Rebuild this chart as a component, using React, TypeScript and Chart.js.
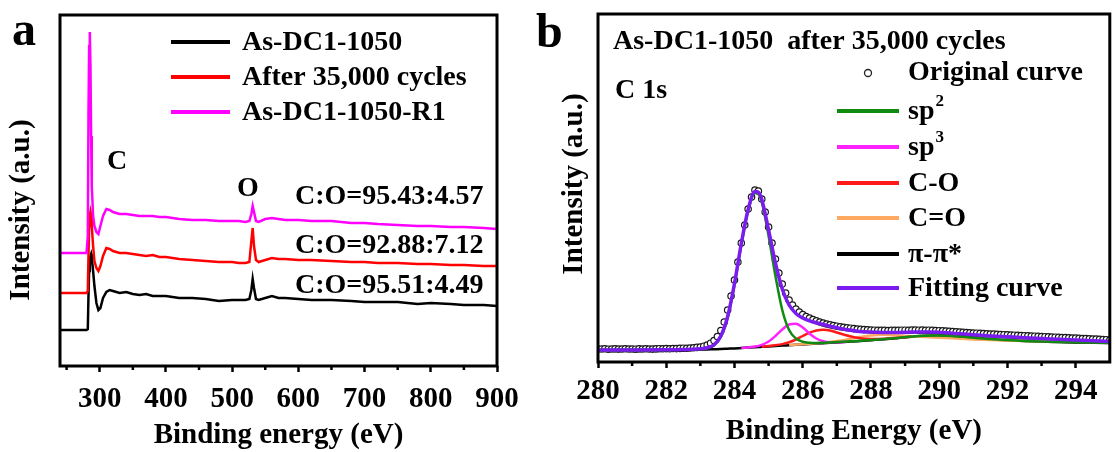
import React, { useEffect, useRef } from "react";
import { Chart, registerables } from "chart.js";

Chart.register(...registerables);

const FONT = '"Liberation Serif", "Times New Roman", "DejaVu Serif", serif';

// ---------- Panel a: XPS survey ----------
const surveyEnergy = [
  240, 260, 280, 282, 283, 284, 285, 286, 287, 288,
  290, 292, 295, 298, 301, 305, 310, 315, 320, 330,
  340, 350, 360, 370, 380, 390, 400, 410, 420, 440,
  460, 480, 500, 510, 520, 526, 529, 531, 533, 536,
  540, 550, 560, 570, 580, 600, 620, 650, 680, 700,
  720, 750, 780, 800, 830, 850, 880, 900,
];
const asDC1050 = [
  36, 36, 36, 37, 70, 95, 105, 110, 112, 108,
  95, 80, 63, 56, 58, 68, 74, 76, 75, 73,
  74, 72, 71, 72, 70, 70, 70, 69, 68, 68,
  67, 65, 66, 66, 66, 67, 76, 87, 78, 67,
  66, 68, 70, 68, 68, 67, 66, 66, 65, 64,
  64, 64, 62, 63, 62, 61, 61, 60,
];
const after35000 = [
  73, 73, 73, 75, 110, 140, 150, 154, 150, 140,
  120, 105, 98, 95, 100, 110, 118, 117, 115, 113,
  113, 112, 111, 110, 111, 109, 109, 108, 107, 106,
  105, 104, 104, 103, 103, 104, 125, 138, 120, 106,
  104, 106, 108, 107, 107, 106, 106, 105, 104, 104,
  103, 103, 102, 102, 101, 101, 100, 100,
];
const asDC1050R1 = [
  113, 113, 113, 130, 250, 320, 334, 300, 230, 180,
  150, 140, 134, 132, 140, 150, 157, 156, 154, 152,
  152, 151, 150, 150, 150, 149, 149, 148, 147, 146,
  146, 145, 145, 145, 144, 145, 152, 160, 154, 145,
  144, 147, 148, 147, 146, 146, 145, 145, 143, 143,
  142, 141, 140, 140, 139, 139, 138, 137,
];
const surveyTicks = [300, 400, 500, 600, 700, 800, 900];
const surveyMinorTicks = [250, 350, 450, 550, 650, 750, 850];
const surveyLegend = ["As-DC1-1050", "After 35,000 cycles", "As-DC1-1050-R1"];
const surveyColors = ["#000000", "#ff0000", "#ff00ff"];
const ratioLabels = ["C:O=95.43:4.57", "C:O=92.88:7.12", "C:O=95.51:4.49"];

// ---------- Panel b: C 1s ----------
const originalEnergy = [
  280.0, 280.1, 280.2, 280.3, 280.4, 280.5, 280.6, 280.7, 280.8, 280.9,
  281.0, 281.1, 281.2, 281.3, 281.4, 281.5, 281.6, 281.7, 281.8, 281.9,
  282.0, 282.1, 282.2, 282.3, 282.4, 282.5, 282.6, 282.7, 282.8, 282.9,
  283.0, 283.1, 283.2, 283.3, 283.4, 283.5, 283.6, 283.7, 283.8, 283.9,
  284.0, 284.1, 284.2, 284.3, 284.4, 284.5, 284.6, 284.7, 284.8, 284.9,
  285.0, 285.1, 285.2, 285.3, 285.4, 285.5, 285.6, 285.7, 285.8, 285.9,
  286.0, 286.1, 286.2, 286.3, 286.4, 286.5, 286.6, 286.7, 286.8, 286.9,
  287.0, 287.1, 287.2, 287.3, 287.4, 287.5, 287.6, 287.7, 287.8, 287.9,
  288.0, 288.1, 288.2, 288.3, 288.4, 288.5, 288.6, 288.7, 288.8, 288.9,
  289.0, 289.1, 289.2, 289.3, 289.4, 289.5, 289.6, 289.7, 289.8, 289.9,
  290.0, 290.1, 290.2, 290.3, 290.4, 290.5, 290.6, 290.7, 290.8, 290.9,
  291.0, 291.1, 291.2, 291.3, 291.4, 291.5, 291.6, 291.7, 291.8, 291.9,
  292.0, 292.1, 292.2, 292.3, 292.4, 292.5, 292.6, 292.7, 292.8, 292.9,
  293.0, 293.1, 293.2, 293.3, 293.4, 293.5, 293.6, 293.7, 293.8, 293.9,
  294.0, 294.1, 294.2, 294.3, 294.4, 294.5, 294.6, 294.7, 294.8, 294.9,
  295.0,
];
const originalCurve = [
  13, 13, 13.2, 12.8, 13, 13.1, 12.9, 13, 13.2, 13,
  13, 12.8, 13.1, 13, 13.2, 13, 12.9, 13.1, 13.3, 13.2,
  13.4, 13.2, 13.5, 13.4, 13.6, 13.8, 13.7, 14, 14.2, 14.6,
  15, 15.8, 17, 18.8, 21.5, 25.5, 31.5, 40, 52, 66,
  82, 100, 119, 137, 153, 165, 172, 171, 163, 150,
  135, 119, 103, 89, 78, 69, 62, 57, 53, 50,
  47.5, 45.5, 44, 42.5, 41.2, 40, 39, 38, 37.2, 36.5,
  35.8, 35.2, 34.7, 34.2, 33.8, 33.4, 33, 32.7, 32.4, 32.2,
  32, 31.8, 31.7, 31.6, 31.6, 31.5, 31.6, 31.7, 31.6, 31.8,
  31.8, 31.7, 31.9, 32, 31.8, 31.9, 31.7, 31.8, 31.6, 31.5,
  31.3, 31.1, 31, 30.7, 30.5, 30.2, 30, 29.7, 29.5, 29.2,
  29, 28.8, 28.7, 28.4, 28.2, 28, 27.9, 27.6, 27.5, 27.3,
  27.1, 27, 26.8, 26.6, 26.5, 26.3, 26.1, 26, 25.8, 25.7,
  25.5, 25.3, 25.2, 25, 24.8, 24.7, 24.5, 24.4, 24.2, 24,
  23.9, 23.7, 23.5, 23.4, 23.2, 23, 22.9, 22.7, 22.5, 22.3,
  22,
];
const fitEnergy = [
  280, 281, 282, 282.5, 283, 283.2, 283.4, 283.6, 283.8, 284.0,
  284.2, 284.4, 284.6, 284.7, 284.8, 285.0, 285.2, 285.4, 285.6, 285.8,
  286.0, 286.2, 286.4, 286.6, 286.8, 287.0, 287.3, 287.6, 288.0, 288.4,
  288.8, 289.2, 289.6, 290.0, 290.5, 291, 291.5, 292, 292.5, 293,
  293.5, 294, 294.5, 295,
];
const fittingCurve = [
  12, 12, 12.2, 12.5, 13.2, 14.2, 17.2, 26, 45.5, 78.5,
  118.5, 152.5, 170.5, 169.8, 162.5, 132, 99, 73, 57, 48.5,
  44, 41.2, 39.3, 37.5, 35.8, 34.2, 32.3, 30.8, 30, 29.6,
  29.6, 29.9, 30.1, 29.7, 28.5, 27.2, 26.1, 25.2, 24.3, 23.5,
  22.7, 21.9, 21.2, 20.5,
];
const sp2Curve = [
  12, 12, 12.1, 12.3, 12.9, 13.8, 16.5, 25, 44, 77,
  117, 151, 169, 168, 160, 126, 86, 52, 32, 23.5,
  20.2, 19.2, 19.0, 19.2, 19.5, 19.9, 20.4, 21, 22, 23,
  24.1, 25.4, 26.3, 26.6, 25.7, 24.3, 22.9, 21.9, 21.1, 20.5,
  20.1, 19.7, 19.4, 19.1,
];
const piCurve = [
  12, 12, 12, 12.1, 12.4, 12.6, 12.8, 13, 13.3, 13.6,
  14, 14.4, 14.8, 15, 15.2, 15.6, 16, 16.4, 16.8, 17.2,
  17.6, 18, 18.4, 18.8, 19.2, 19.6, 20.2, 20.8, 21.8, 22.8,
  24, 25.3, 26.2, 26.5, 25.6, 24.2, 22.8, 21.8, 21, 20.4,
  20, 19.6, 19.3, 19,
];
const sp3Energy = [284.2, 284.4, 284.6, 284.8, 285.0, 285.2, 285.4, 285.6, 285.8, 286.0, 286.2, 286.4, 286.6, 286.8, 287.0, 287.3];
const sp3Curve = [14.1, 14.6, 15.4, 17.2, 20.5, 26, 32.5, 37.5, 38.2, 34.5, 28.5, 23.5, 20.8, 19.8, 19.8, 20.2];
const coEnergy = [284.8, 285.0, 285.2, 285.4, 285.6, 285.8, 286.0, 286.2, 286.4, 286.6, 286.8, 287.0, 287.3, 287.6, 288.0, 288.4, 288.8, 289.2];
const coCurve = [15.3, 15.9, 16.7, 17.9, 19.8, 22.5, 26, 29.3, 31.5, 32.2, 31.5, 29.5, 26.5, 24.2, 23, 23.3, 24.2, 25.4];
const c2oEnergy = [285.6, 286.0, 286.4, 286.8, 287.0, 287.3, 287.6, 288.0, 288.4, 288.8, 289.2, 289.6, 290.0, 290.5, 291, 291.5, 292, 292.5, 293, 293.5, 294, 294.5, 295];
const c2oCurve = [16.9, 17.8, 18.8, 20, 20.9, 22.6, 24.6, 26.6, 27.2, 26.6, 25.8, 25, 24.3, 23.4, 22.6, 22, 21.5, 21.1, 20.8, 20.5, 20.3, 20.1, 19.9];
const c1sTicks = [280, 282, 284, 286, 288, 290, 292, 294];
const c1sMinorTicks = [281, 283, 285, 287, 289, 291, 293];
const c1sColors = {
  fit: "#7a1cf0",
  sp2: "#118a11",
  sp3: "#ff22ff",
  co: "#ff1a1a",
  c2o: "#ffa860",
  pi: "#000000",
};

const pts = (xs: number[], ys: number[]) => xs.map((x, i) => ({ x, y: ys[i] }));

function setFont(ctx: CanvasRenderingContext2D, size: number) {
  ctx.font = `bold ${size}px ${FONT}`;
}

function drawFrameAndMinor(chart: any, minor: number[]) {
  const { ctx, chartArea: ca, scales } = chart;
  ctx.save();
  ctx.strokeStyle = "#000";
  ctx.lineWidth = 2.5;
  for (const v of minor) {
    const px = scales.x.getPixelForValue(v);
    ctx.beginPath();
    ctx.moveTo(px, ca.bottom);
    ctx.lineTo(px, ca.bottom + 4);
    ctx.stroke();
  }
  ctx.lineWidth = 3;
  ctx.strokeRect(ca.left, ca.top, ca.right - ca.left, ca.bottom - ca.top);
  ctx.restore();
}

function drawYTitle(ctx: CanvasRenderingContext2D, text: string, x: number, y: number) {
  ctx.save();
  ctx.translate(x, y);
  ctx.rotate(-Math.PI / 2);
  setFont(ctx, 29);
  ctx.fillStyle = "#000";
  ctx.textAlign = "center";
  ctx.textBaseline = "middle";
  ctx.fillText(text, 0, 0);
  ctx.restore();
}

const surveyPlugin = {
  id: "surveyDecor",
  afterDraw(chart: any) {
    const ctx: CanvasRenderingContext2D = chart.ctx;
    drawFrameAndMinor(chart, surveyMinorTicks);
    ctx.save();
    ctx.fillStyle = "#000";
    const rows = [42, 77, 112];
    surveyLegend.forEach((label, i) => {
      ctx.strokeStyle = surveyColors[i];
      ctx.lineWidth = 4;
      ctx.beginPath();
      ctx.moveTo(171, rows[i]);
      ctx.lineTo(230, rows[i]);
      ctx.stroke();
      setFont(ctx, 28);
      ctx.textAlign = "left";
      ctx.textBaseline = "middle";
      ctx.fillText(label, 242, rows[i] + 1);
    });
    setFont(ctx, 28);
    ctx.textBaseline = "middle";
    ctx.textAlign = "left";
    ctx.fillText("C", 107, 162);
    ctx.fillText("O", 237, 189);
    const ry = [197, 246, 286];
    ratioLabels.forEach((t, i) => ctx.fillText(t, 295, ry[i]));
    setFont(ctx, 48);
    ctx.textBaseline = "alphabetic";
    ctx.fillText("a", 12, 45);
    ctx.restore();
    drawYTitle(ctx, "Intensity (a.u.)", 22, 210);
  },
};

const c1sPlugin = {
  id: "c1sDecor",
  afterDraw(chart: any) {
    const ctx: CanvasRenderingContext2D = chart.ctx;
    drawFrameAndMinor(chart, c1sMinorTicks);
    ctx.save();
    ctx.fillStyle = "#000";
    setFont(ctx, 28);
    ctx.textAlign = "left";
    ctx.textBaseline = "middle";
    ctx.fillText("As-DC1-1050  after 35,000 cycles", 83, 42);
    ctx.fillText("C 1s", 85, 91);
    ctx.beginPath();
    ctx.arc(338, 73, 3.5, 0, Math.PI * 2);
    ctx.fillStyle = "#fff";
    ctx.fill();
    ctx.strokeStyle = "#222";
    ctx.lineWidth = 1.3;
    ctx.stroke();
    ctx.fillStyle = "#000";
    ctx.fillText("Original curve", 378, 73);
    const items: { color: string; main: string; sup?: string }[] = [
      { color: c1sColors.sp2, main: "sp", sup: "2" },
      { color: c1sColors.sp3, main: "sp", sup: "3" },
      { color: c1sColors.co, main: "C-O" },
      { color: c1sColors.c2o, main: "C=O" },
      { color: c1sColors.pi, main: "π-π*" },
      { color: c1sColors.fit, main: "Fitting curve" },
    ];
    const rows = [111, 147, 183, 218, 254, 288];
    items.forEach((it, i) => {
      ctx.strokeStyle = it.color;
      ctx.lineWidth = 4;
      ctx.beginPath();
      ctx.moveTo(307, rows[i]);
      ctx.lineTo(369, rows[i]);
      ctx.stroke();
      setFont(ctx, 28);
      ctx.fillStyle = "#000";
      ctx.fillText(it.main, 378, rows[i] + 1);
      if (it.sup) {
        const w = ctx.measureText(it.main).width;
        setFont(ctx, 17);
        ctx.fillText(it.sup, 378 + w + 1, rows[i] - 9);
      }
    });
    setFont(ctx, 48);
    ctx.textBaseline = "alphabetic";
    ctx.fillText("b", 6, 47);
    ctx.restore();
    drawYTitle(ctx, "Intensity (a.u.)", 45, 184);
  },
};

function xScale(min: number, max: number, ticks: number[], title: string, height: number, pad: number, titlePad: number) {
  return {
    type: "linear" as const,
    min,
    max,
    afterBuildTicks(scale: any) {
      scale.ticks = ticks.map((v) => ({ value: v }));
    },
    afterFit(scale: any) {
      scale.height = height;
    },
    ticks: {
      autoSkip: false,
      maxRotation: 0,
      minRotation: 0,
      padding: pad,
      color: "#000",
      font: { family: FONT, size: 29, weight: "bold" as const },
    },
    grid: {
      display: true,
      drawOnChartArea: false,
      drawTicks: true,
      tickLength: 6,
      tickColor: "#000",
      tickWidth: 2.5,
    },
    border: { display: false },
    title: {
      display: true,
      text: title,
      color: "#000",
      font: { family: FONT, size: 29, weight: "bold" as const, lineHeight: 1 },
      padding: { top: 0, bottom: titlePad },
    },
  };
}

function yScale(max: number, width: number) {
  return {
    type: "linear" as const,
    min: 0,
    max,
    afterFit(scale: any) {
      scale.width = width;
    },
    ticks: { display: false },
    grid: { display: false },
    border: { display: false },
  };
}

function SurveyChart() {
  const ref = useRef<HTMLCanvasElement | null>(null);
  useEffect(() => {
    if (!ref.current) return;
    const series = [asDC1050, after35000, asDC1050R1];
    const chart = new Chart(ref.current, {
      type: "line",
      data: {
        datasets: series.map((s, i) => ({
          label: surveyLegend[i],
          data: pts(surveyEnergy, s),
          borderColor: surveyColors[i],
          borderWidth: 2.5,
          pointRadius: 0,
          tension: 0,
          order: 2 - i,
        })),
      },
      options: {
        animation: false,
        responsive: false,
        devicePixelRatio: 1,
        events: [],
        layout: { padding: { top: 15, right: 33, left: 0, bottom: 0 } },
        plugins: { legend: { display: false }, tooltip: { enabled: false } },
        scales: {
          x: xScale(240, 900, surveyTicks, "Binding energy (eV)", 86, 10, 2),
          y: yScale(351, 60),
        },
      },
      plugins: [surveyPlugin],
    });
    return () => chart.destroy();
  }, []);
  return <canvas ref={ref} width={530} height={452} style={{ position: "absolute", left: 0, top: 0 }} />;
}

function C1sChart() {
  const ref = useRef<HTMLCanvasElement | null>(null);
  useEffect(() => {
    if (!ref.current) return;
    const line = (label: string, xs: number[], ys: number[], color: string, width: number, order: number) => ({
      label,
      data: pts(xs, ys),
      borderColor: color,
      borderWidth: width,
      pointRadius: 0,
      cubicInterpolationMode: "monotone" as const,
      order,
    });
    const chart = new Chart(ref.current, {
      type: "line",
      data: {
        datasets: [
          line("Fitting curve", fitEnergy, fittingCurve, c1sColors.fit, 3.5, 0),
          line("sp2", fitEnergy, sp2Curve, c1sColors.sp2, 2.5, 1),
          line("sp3", sp3Energy, sp3Curve, c1sColors.sp3, 2.5, 2),
          line("C-O", coEnergy, coCurve, c1sColors.co, 2.5, 3),
          line("C=O", c2oEnergy, c2oCurve, c1sColors.c2o, 2.5, 4),
          line("π-π*", fitEnergy, piCurve, c1sColors.pi, 2.5, 5),
          {
            label: "Original curve",
            data: pts(originalEnergy, originalCurve),
            showLine: false,
            pointRadius: 3.2,
            pointBorderWidth: 1.2,
            pointBorderColor: "#1a1a1a",
            pointBackgroundColor: "#fff",
            order: 6,
          },
        ],
      },
      options: {
        animation: false,
        responsive: false,
        devicePixelRatio: 1,
        events: [],
        layout: { padding: { top: 14, right: 1, left: 0, bottom: 0 } },
        plugins: { legend: { display: false }, tooltip: { enabled: false } },
        scales: {
          x: xScale(280, 295, c1sTicks, "Binding Energy (eV)", 90, 6, 6),
          y: yScale(348, 68),
        },
      },
      plugins: [c1sPlugin],
    });
    return () => chart.destroy();
  }, []);
  return <canvas ref={ref} width={585} height={452} style={{ position: "absolute", left: 530, top: 0 }} />;
}

export default function App() {
  return (
    <div style={{ position: "absolute", left: 0, top: 0, width: 1115, height: 452, background: "#fff", overflow: "hidden" }}>
      <SurveyChart />
      <C1sChart />
    </div>
  );
}
